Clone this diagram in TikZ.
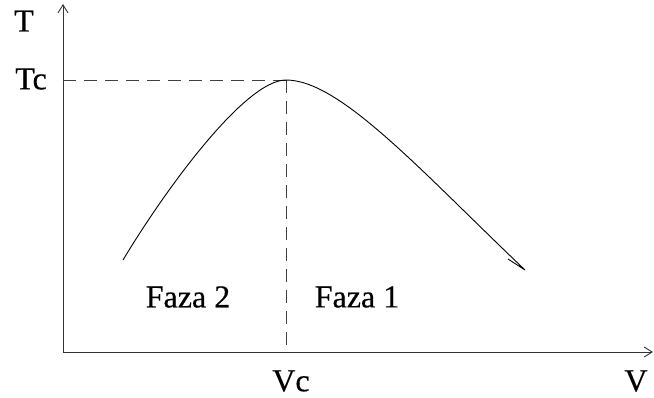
\documentclass[tikz,border=0pt]{standalone}
\usepackage{fontspec}
\setmainfont{Liberation Serif}[FakeBold=0.4]
\usetikzlibrary{arrows.meta}
\begin{document}
\begin{tikzpicture}[x=1pt,y=-1pt,
  axis/.style={draw=black!80,line width=0.9pt,-{Straight Barb[length=8pt,width=10pt]}},
  guide/.style={draw=black!75,line width=0.9pt,dash pattern=on 13pt off 8pt},
  curve/.style={draw=black,line width=0.9pt},
  lbl/.style={font=\fontsize{32}{34}\selectfont,inner sep=0pt}]
\useasboundingbox (0,0) rectangle (654,397);
\coordinate (O) at (63,352);
\coordinate (Ytop) at (63,4);
\coordinate (Xend) at (653,352);
\coordinate (Tc) at (63,80);
\coordinate (P) at (286,80);
\coordinate (Vc) at (286,352);
\coordinate (S) at (123,260);
\coordinate (E) at (525,270);
\coordinate (H) at (508,259);
\draw[axis] (O) -- (Ytop);
\draw[axis] (O) -- (Xend);
\draw[guide] (Tc) -- (P);
\draw[guide] (P) -- (Vc);
\draw[curve] (S) .. controls (165,190) and (245,80) .. (P)
  .. controls (340,80) and (420,170) .. (E) -- (H);
\node[lbl] (t) at (24,21) {T};
\node[lbl] (tc) at (31,79) {Tc};
\node[lbl] (vc) at (291,381) {Vc};
\node[lbl] (v) at (636,381) {V};
\node[lbl] (f2) at (188,297) {Faza 2};
\node[lbl] (f1) at (357,297) {Faza 1};
\end{tikzpicture}
\end{document}
